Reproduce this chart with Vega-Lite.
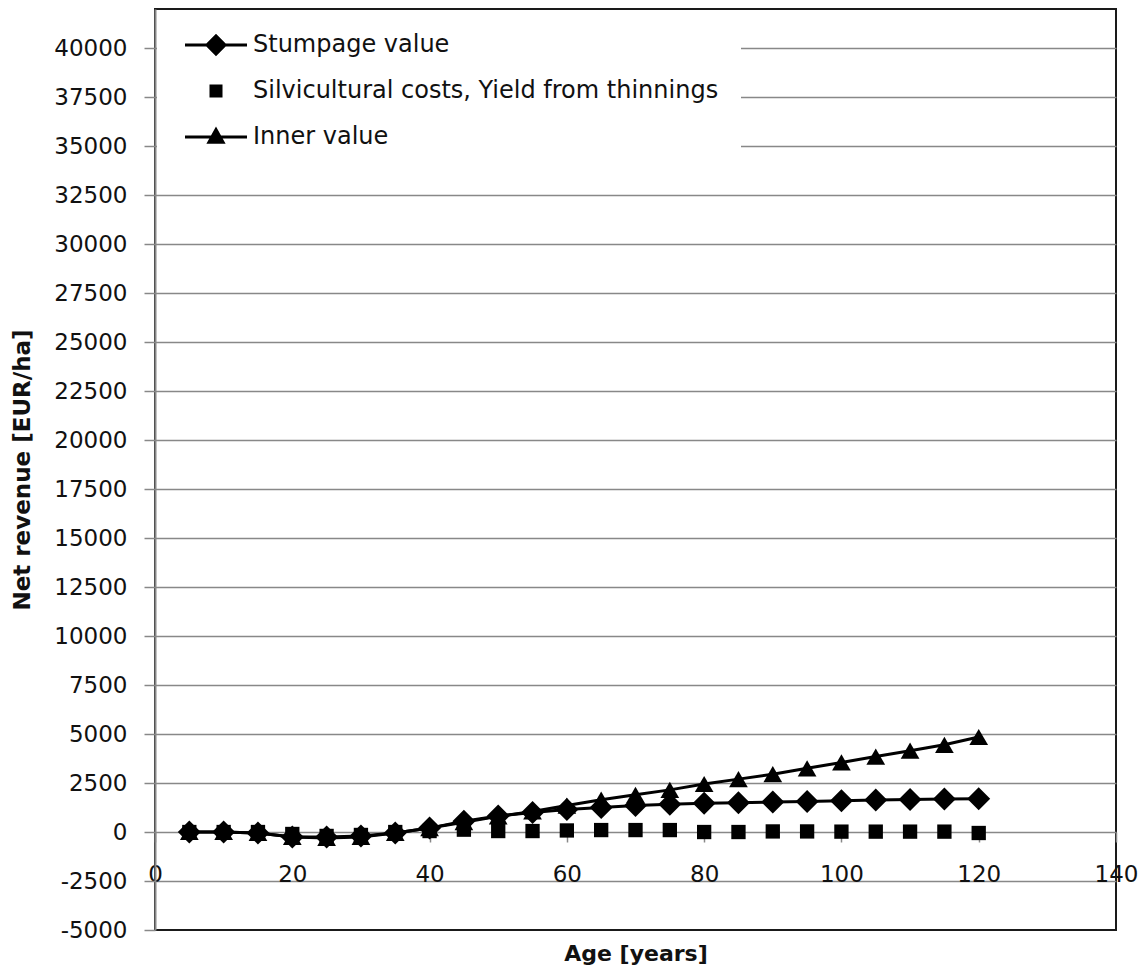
{
  "$schema": "https://vega.github.io/schema/vega-lite/v6.json",
  "width": 961,
  "height": 921,
  "autosize": {"type": "none"},
  "padding": {"left": 155, "top": 9, "right": 30, "bottom": 41},
  "background": "white",
  "config": {
    "view": {"stroke": "#1a1a1a", "strokeWidth": 2},
    "font": "DejaVu Sans"
  },
  "data": {
    "values": [
      {"age": 5, "series": "Stumpage value", "value": 0},
      {"age": 10, "series": "Stumpage value", "value": 0},
      {"age": 15, "series": "Stumpage value", "value": -50},
      {"age": 20, "series": "Stumpage value", "value": -250},
      {"age": 25, "series": "Stumpage value", "value": -250},
      {"age": 30, "series": "Stumpage value", "value": -200},
      {"age": 35, "series": "Stumpage value", "value": -50},
      {"age": 40, "series": "Stumpage value", "value": 200},
      {"age": 45, "series": "Stumpage value", "value": 550},
      {"age": 50, "series": "Stumpage value", "value": 820},
      {"age": 55, "series": "Stumpage value", "value": 1000},
      {"age": 60, "series": "Stumpage value", "value": 1150},
      {"age": 65, "series": "Stumpage value", "value": 1250},
      {"age": 70, "series": "Stumpage value", "value": 1350},
      {"age": 75, "series": "Stumpage value", "value": 1420},
      {"age": 80, "series": "Stumpage value", "value": 1470},
      {"age": 85, "series": "Stumpage value", "value": 1500},
      {"age": 90, "series": "Stumpage value", "value": 1530},
      {"age": 95, "series": "Stumpage value", "value": 1560},
      {"age": 100, "series": "Stumpage value", "value": 1600},
      {"age": 105, "series": "Stumpage value", "value": 1640},
      {"age": 110, "series": "Stumpage value", "value": 1660},
      {"age": 115, "series": "Stumpage value", "value": 1680},
      {"age": 120, "series": "Stumpage value", "value": 1700},
      {"age": 5, "series": "Silvicultural costs, Yield from thinnings", "value": 0},
      {"age": 10, "series": "Silvicultural costs, Yield from thinnings", "value": 0},
      {"age": 15, "series": "Silvicultural costs, Yield from thinnings", "value": 0},
      {"age": 20, "series": "Silvicultural costs, Yield from thinnings", "value": -100},
      {"age": 25, "series": "Silvicultural costs, Yield from thinnings", "value": -200},
      {"age": 30, "series": "Silvicultural costs, Yield from thinnings", "value": -150},
      {"age": 35, "series": "Silvicultural costs, Yield from thinnings", "value": 0},
      {"age": 40, "series": "Silvicultural costs, Yield from thinnings", "value": 50},
      {"age": 45, "series": "Silvicultural costs, Yield from thinnings", "value": 120},
      {"age": 50, "series": "Silvicultural costs, Yield from thinnings", "value": 50},
      {"age": 55, "series": "Silvicultural costs, Yield from thinnings", "value": 50},
      {"age": 60, "series": "Silvicultural costs, Yield from thinnings", "value": 80},
      {"age": 65, "series": "Silvicultural costs, Yield from thinnings", "value": 100},
      {"age": 70, "series": "Silvicultural costs, Yield from thinnings", "value": 100},
      {"age": 75, "series": "Silvicultural costs, Yield from thinnings", "value": 100},
      {"age": 80, "series": "Silvicultural costs, Yield from thinnings", "value": 0},
      {"age": 85, "series": "Silvicultural costs, Yield from thinnings", "value": 0},
      {"age": 90, "series": "Silvicultural costs, Yield from thinnings", "value": 30},
      {"age": 95, "series": "Silvicultural costs, Yield from thinnings", "value": 30},
      {"age": 100, "series": "Silvicultural costs, Yield from thinnings", "value": 20},
      {"age": 105, "series": "Silvicultural costs, Yield from thinnings", "value": 20},
      {"age": 110, "series": "Silvicultural costs, Yield from thinnings", "value": 20},
      {"age": 115, "series": "Silvicultural costs, Yield from thinnings", "value": 20},
      {"age": 120, "series": "Silvicultural costs, Yield from thinnings", "value": -50},
      {"age": 5, "series": "Inner value", "value": 0},
      {"age": 10, "series": "Inner value", "value": 0},
      {"age": 15, "series": "Inner value", "value": -50},
      {"age": 20, "series": "Inner value", "value": -250},
      {"age": 25, "series": "Inner value", "value": -300},
      {"age": 30, "series": "Inner value", "value": -250},
      {"age": 35, "series": "Inner value", "value": -50},
      {"age": 40, "series": "Inner value", "value": 200},
      {"age": 45, "series": "Inner value", "value": 500},
      {"age": 50, "series": "Inner value", "value": 800},
      {"age": 55, "series": "Inner value", "value": 1050},
      {"age": 60, "series": "Inner value", "value": 1350},
      {"age": 65, "series": "Inner value", "value": 1650},
      {"age": 70, "series": "Inner value", "value": 1900},
      {"age": 75, "series": "Inner value", "value": 2150},
      {"age": 80, "series": "Inner value", "value": 2450},
      {"age": 85, "series": "Inner value", "value": 2700},
      {"age": 90, "series": "Inner value", "value": 2950},
      {"age": 95, "series": "Inner value", "value": 3250},
      {"age": 100, "series": "Inner value", "value": 3550},
      {"age": 105, "series": "Inner value", "value": 3850},
      {"age": 110, "series": "Inner value", "value": 4150},
      {"age": 115, "series": "Inner value", "value": 4450},
      {"age": 120, "series": "Inner value", "value": 4850}
    ]
  },
  "encoding": {
    "x": {
      "field": "age",
      "type": "quantitative",
      "scale": {"domain": [0, 140], "nice": false, "zero": false},
      "axis": {
        "title": "Age [years]",
        "values": [0, 20, 40, 60, 80, 100, 120, 140],
        "offset": -98,
        "grid": false,
        "domain": false,
        "ticks": true,
        "tickSize": 10,
        "tickColor": "#888888",
        "tickWidth": 1.5,
        "labelFont": "DejaVu Sans",
        "labelFontSize": 23,
        "labelColor": "#111111",
        "labelPadding": 21,
        "labelFlush": false,
        "labelOverlap": false,
        "titleFont": "DejaVu Sans",
        "titleFontSize": 22,
        "titleFontWeight": "bold",
        "titleColor": "#111111",
        "titlePadding": 57
      }
    },
    "y": {
      "field": "value",
      "type": "quantitative",
      "scale": {"domain": [-5000, 42000], "nice": false, "zero": false},
      "axis": {
        "title": "Net revenue [EUR/ha]",
        "values": [-5000, -2500, 0, 2500, 5000, 7500, 10000, 12500, 15000, 17500, 20000, 22500, 25000, 27500, 30000, 32500, 35000, 37500, 40000],
        "format": "d",
        "labelExpr": "replace(datum.label, '\u2212', '-')",
        "grid": true,
        "gridColor": {"condition": {"test": "datum.value === -5000", "value": "transparent"}, "value": "#888888"},
        "gridWidth": 1.5,
        "domain": true,
        "domainColor": "#888888",
        "domainWidth": 2,
        "tickSize": 11,
        "tickColor": "#888888",
        "tickWidth": 1.5,
        "labelFont": "DejaVu Sans",
        "labelFontSize": 23,
        "labelColor": "#111111",
        "labelPadding": 17,
        "titleFont": "DejaVu Sans",
        "titleFontSize": 23,
        "titleFontWeight": "bold",
        "titleColor": "#111111",
        "titlePadding": 19
      }
    }
  },
  "layer": [
    {
      "mark": {"type": "point", "filled": true, "opacity": 0, "color": "black"},
      "encoding": {
        "shape": {
          "field": "series",
          "type": "nominal",
          "scale": {
            "domain": ["Stumpage value", "Silvicultural costs, Yield from thinnings", "Inner value"],
            "range": [
              "M-1,-0.05H1V0.05H-1Z M0,-0.36L0.36,0L0,0.36L-0.36,0Z",
              "M-0.21,-0.21H0.21V0.21H-0.21Z",
              "M-1,-0.05H1V0.05H-1Z M0,-0.34L0.31,0.22L-0.31,0.22Z"
            ]
          },
          "legend": {
            "title": null,
            "orient": "none",
            "legendX": 2,
            "legendY": 1,
            "padding": 22,
            "fillColor": "white",
            "symbolSize": 3844,
            "symbolOffset": 6,
            "labelOffset": 6,
            "clipHeight": 26,
            "rowPadding": 20,
            "labelFont": "DejaVu Sans",
            "labelFontSize": 24,
            "labelColor": "#111111",
            "labelLimit": 800,
            "symbolOpacity": 1,
            "symbolFillColor": "black",
            "symbolStrokeWidth": 0
          }
        }
      }
    },
    {
      "transform": [{"filter": "datum.series === 'Stumpage value'"}],
      "mark": {"type": "line", "color": "black", "strokeWidth": 3},
      "encoding": {}
    },
    {
      "transform": [{"filter": "datum.series === 'Stumpage value'"}],
      "mark": {"type": "point", "filled": true, "opacity": 1, "color": "black", "size": 529, "shape": "diamond"},
      "encoding": {}
    },
    {
      "transform": [{"filter": "datum.series === 'Silvicultural costs, Yield from thinnings'"}],
      "mark": {"type": "point", "filled": true, "opacity": 1, "color": "black", "size": 205, "shape": "square"},
      "encoding": {}
    },
    {
      "transform": [{"filter": "datum.series === 'Inner value'"}],
      "mark": {"type": "line", "color": "black", "strokeWidth": 3},
      "encoding": {}
    },
    {
      "transform": [{"filter": "datum.series === 'Inner value'"}],
      "mark": {"type": "point", "filled": true, "opacity": 1, "color": "black", "size": 350, "shape": "triangle-up"},
      "encoding": {}
    }
  ]
}
